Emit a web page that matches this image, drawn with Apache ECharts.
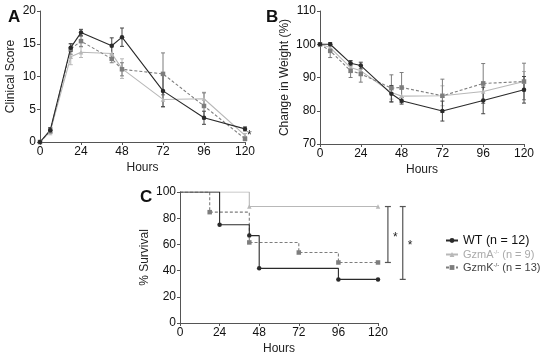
<!DOCTYPE html>
<html>
<head>
<meta charset="utf-8">
<script src="https://cdn.jsdelivr.net/npm/echarts@6/dist/echarts.min.js"></script>
<style>
  html, body { margin: 0; padding: 0; background: #fff; }
  #main { width: 541px; height: 356px; }
</style>
</head>
<body>
<div id="main"></div>
<script>
// time points (hours)
var hours = [0, 6, 18, 24, 42, 48, 72, 96, 120];
var xTicks = [0, 24, 48, 72, 96, 120];

// A - clinical score (mean, sem)
var scoreWT   = [0, 1.8, 14.4, 16.7, 14.7, 16.0, 7.8, 3.7, 2.0];
var scoreWTe  = [0, 0.4, 0.6, 0.5, 1.2, 1.4, 2.4, 1.0, 0.3];
var scoreA    = [0, 1.6, 13.0, 13.7, 13.5, 11.2, 6.5, 6.6, 1.0];
var scoreAe   = [0, 0.5, 1.2, 0.8, 1.0, 1.5, 1.2, 1.0, 0.3];
var scoreK    = [0, 1.7, 14.2, 15.4, 12.7, 11.1, 10.4, 5.5, 0.5];
var scoreKe   = [0, 0.4, 0.8, 0.8, 0.6, 1.0, 3.2, 2.0, 0.3];

// B - change in weight (%)
var weightWT  = [100, 100, 94.3, 93.6, 85.1, 83.0, 79.9, 83.1, 86.3];
var weightWTe = [0, 0.5, 0.8, 1.0, 2.5, 1.0, 3.0, 4.0, 4.0];
var weightA   = [100, 99.0, 93.0, 92.0, 85.5, 84.4, 84.5, 85.8, 88.8];
var weightAe  = [0, 1.0, 1.5, 1.5, 2.0, 2.0, 3.0, 3.0, 3.0];
var weightK   = [100, 98.0, 92.0, 91.1, 86.8, 87.0, 84.5, 88.2, 88.8];
var weightKe  = [0, 2.0, 2.0, 2.5, 4.0, 4.5, 5.0, 6.0, 5.5];

// C - survival (step points)
var survWTx = [0, 24, 42, 48, 96, 120];
var survWT  = [100, 75, 66.7, 41.7, 33.3, 33.3];
var survAx  = [0, 42, 120];
var survA   = [100, 88.9, 88.9];
var survKx  = [0, 18, 42, 72, 96, 120];
var survK   = [100, 84.6, 61.5, 53.8, 46.2, 46.2];

var cWT = '#2a2a2a', cA = '#b8b8b8', cK = '#7d7d7d';

function pairs(xs, ys) {
  return xs.map(function (x, i) {
    var d = { value: [x, ys[i]] };
    if (i === 0) d.symbol = 'none';
    return d;
  });
}

function lineSeries(name, xs, ys, color, symbol, dashed, gi, noFirst) {
  return {
    name: name, type: 'line', xAxisIndex: gi, yAxisIndex: gi,
    data: noFirst ? pairs(xs, ys) : xs.map(function (x, i) { return [x, ys[i]]; }),
    symbol: symbol, symbolSize: 4.5,
    itemStyle: { color: color },
    lineStyle: { color: color, width: 1.1, type: dashed ? [3, 2] : 'solid' },
    z: 3
  };
}

function errSeries(xs, ys, errs, color, gi) {
  var data = [];
  xs.forEach(function (x, i) {
    if (errs[i] > 0) data.push([x, ys[i] - errs[i], ys[i] + errs[i]]);
  });
  return {
    type: 'custom', xAxisIndex: gi, yAxisIndex: gi, data: data, z: 2,
    renderItem: function (params, api) {
      var lo = api.coord([api.value(0), api.value(1)]);
      var hi = api.coord([api.value(0), api.value(2)]);
      var st = { stroke: color, lineWidth: 1 };
      return { type: 'group', children: [
        { type: 'line', shape: { x1: lo[0], y1: lo[1], x2: hi[0], y2: hi[1] }, style: st },
        { type: 'line', shape: { x1: lo[0] - 2, y1: lo[1], x2: lo[0] + 2, y2: lo[1] }, style: st },
        { type: 'line', shape: { x1: hi[0] - 2, y1: hi[1], x2: hi[0] + 2, y2: hi[1] }, style: st }
      ]};
    }
  };
}

// significance brackets in panel C
var brackets = [
  { x: 126, lo: survK[survK.length - 1], hi: survA[survA.length - 1] },
  { x: 135, lo: survWT[survWT.length - 1], hi: survA[survA.length - 1] }
];
var bracketSeries = {
  type: 'custom', xAxisIndex: 2, yAxisIndex: 2, clip: false, silent: true,
  data: brackets.map(function (b) { return [b.x, b.lo, b.hi]; }),
  renderItem: function (params, api) {
    var lo = api.coord([api.value(0), api.value(1)]);
    var hi = api.coord([api.value(0), api.value(2)]);
    var st = { stroke: '#555', lineWidth: 1.2 };
    return { type: 'group', children: [
      { type: 'line', shape: { x1: lo[0], y1: lo[1], x2: hi[0], y2: hi[1] }, style: st },
      { type: 'line', shape: { x1: lo[0] - 3, y1: lo[1], x2: lo[0] + 3, y2: lo[1] }, style: st },
      { type: 'line', shape: { x1: hi[0] - 3, y1: hi[1], x2: hi[0] + 3, y2: hi[1] }, style: st },
      { type: 'text', x: lo[0] + 5, y: (lo[1] + hi[1]) / 2 - 3,
        style: { text: '*', fill: '#222', font: '12px Liberation Sans' } }
    ]};
  }
};

var font = 'Liberation Sans';
function xAxis(gi) {
  return {
    gridIndex: gi, type: 'value', min: 0, max: 120, interval: 24,
    name: 'Hours', nameLocation: 'middle', nameGap: 20,
    nameTextStyle: { fontFamily: font, fontSize: 12, color: '#222' },
    axisLine: { lineStyle: { color: '#555', width: 1 } },
    axisTick: { length: 3, lineStyle: { color: '#555' } },
    axisLabel: { fontFamily: font, fontSize: 12, color: '#111', margin: 4 },
    splitLine: { show: false }
  };
}
function yAxis(gi, name, min, max, step, gap) {
  return {
    gridIndex: gi, type: 'value', min: min, max: max, interval: step,
    name: name, nameLocation: 'middle', nameGap: gap,
    nameTextStyle: { fontFamily: font, fontSize: 12, color: '#222' },
    axisLine: { show: true, lineStyle: { color: '#555', width: 1 } },
    axisTick: { show: true, length: 3, lineStyle: { color: '#555' } },
    axisLabel: { fontFamily: font, fontSize: 12, color: '#111', margin: 4 },
    splitLine: { show: false }
  };
}

var myChart = echarts.init(document.getElementById('main'));
var option = {
  backgroundColor: '#fff',
  animation: false,
  title: [
    { text: 'A', left: 3, top: 4, textStyle: { fontFamily: font, fontSize: 17, fontWeight: 'bold', color: '#111' } },
    { text: 'B', left: 261, top: 4, textStyle: { fontFamily: font, fontSize: 17, fontWeight: 'bold', color: '#111' } },
    { text: 'C', left: 135, top: 184, textStyle: { fontFamily: font, fontSize: 17, fontWeight: 'bold', color: '#111' } }
  ],
  grid: [
    { left: 40, top: 11, width: 205, height: 131 },
    { left: 320, top: 11, width: 204, height: 133 },
    { left: 180, top: 192, width: 198, height: 131 }
  ],
  xAxis: [xAxis(0), xAxis(1), xAxis(2)],
  yAxis: [
    yAxis(0, 'Clinical Score', 0, 20, 5, 23),
    yAxis(1, 'Change in Weight (%)', 70, 110, 10, 29),
    yAxis(2, '% Survival', 0, 100, 20, 29)
  ],
  legend: {
    left: 440, top: 229, orient: 'vertical', itemGap: 2,
    itemWidth: 12, itemHeight: 6,
    data: ['WT', 'GzmA', 'GzmK'],
    formatter: function (name) {
      if (name === 'WT') return '{w|WT (n = 12)}';
      if (name === 'GzmA') return '{a|GzmA}{as|-/-}{a| (n = 9)}';
      return '{k|GzmK}{ks|-/-}{k| (n = 13)}';
    },
    textStyle: {
      fontFamily: font, fontSize: 11,
      rich: {
        w: { fontFamily: font, fontSize: 12.5, color: '#111' },
        a: { fontFamily: font, fontSize: 11, color: '#aaa' },
        as: { fontFamily: font, fontSize: 6, color: '#aaa', verticalAlign: 'top', padding: [0, 0, 4, 0] },
        k: { fontFamily: font, fontSize: 11, color: '#444' },
        ks: { fontFamily: font, fontSize: 6, color: '#444', verticalAlign: 'top', padding: [0, 0, 4, 0] }
      }
    }
  },
  graphic: [
    { type: 'text', left: 247, top: 130, style: { text: '*', fill: '#222', font: '12px Liberation Sans' } }
  ],
  series: [
    errSeries(hours, scoreA, scoreAe, cA, 0),
    errSeries(hours, scoreK, scoreKe, cK, 0),
    errSeries(hours, scoreWT, scoreWTe, '#444', 0),
    lineSeries('A-GzmA', hours, scoreA, cA, 'triangle', false, 0),
    lineSeries('A-GzmK', hours, scoreK, cK, 'rect', true, 0),
    lineSeries('A-WT', hours, scoreWT, cWT, 'circle', false, 0),

    errSeries(hours, weightA, weightAe, cA, 1),
    errSeries(hours, weightK, weightKe, cK, 1),
    errSeries(hours, weightWT, weightWTe, '#444', 1),
    lineSeries('B-GzmA', hours, weightA, cA, 'triangle', false, 1),
    lineSeries('B-GzmK', hours, weightK, cK, 'rect', true, 1),
    lineSeries('B-WT', hours, weightWT, cWT, 'circle', false, 1),

    Object.assign(lineSeries('GzmA', survAx, survA, cA, 'triangle', false, 2, true), { step: 'end' }),
    Object.assign(lineSeries('GzmK', survKx, survK, cK, 'rect', true, 2, true), { step: 'end' }),
    Object.assign(lineSeries('WT', survWTx, survWT, cWT, 'circle', false, 2, true), { step: 'end' }),
    bracketSeries
  ]
};

myChart.setOption(option);
</script>
</body>
</html>
